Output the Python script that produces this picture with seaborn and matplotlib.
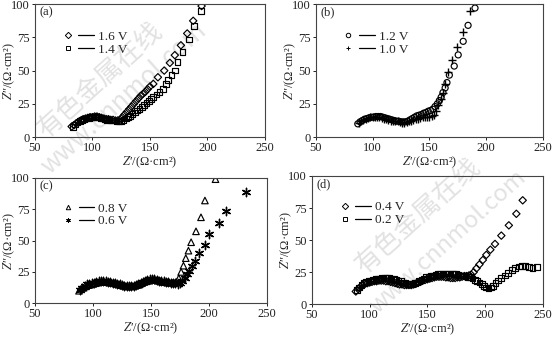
import matplotlib
matplotlib.use("Agg")
import matplotlib.pyplot as plt
import seaborn as sns
import pandas as pd
from matplotlib.lines import Line2D
from matplotlib.legend_handler import HandlerTuple

# ---------------- data (Z' , Z'') ----------------
a_16V = [(82, 8), (84, 9), (86, 10.5), (88, 11.5), (90, 12.5), (92, 13.5), (94, 14), (96, 14.5),
         (98, 15), (100, 15), (102, 15.5), (104, 15.5), (106, 15), (108, 14.5), (110, 14), (112, 13.5),
         (114, 13.5), (116, 13), (118, 13), (120, 12.5), (122, 12.5), (124, 13), (126, 15), (128, 17),
         (130, 19), (132, 21), (134, 23), (136, 25), (138, 27), (140, 29), (142, 31), (144, 32.5),
         (146, 34), (148, 36), (150, 38), (153, 40), (157, 45), (162.5, 50), (167.4, 55.8),
         (171.7, 61.6), (177, 69), (182.5, 77.9), (187.7, 87.4), (195, 98.5)]
a_14V = [(83, 7.5), (85, 9.5), (87, 11), (89, 12), (91, 13), (93, 13.5), (95, 14), (97, 14.5),
         (99, 15), (101, 15), (103, 15), (105, 15), (107, 14.5), (109, 14), (111, 13.5), (113, 13),
         (115, 13), (117, 12.5), (119, 12.5), (121, 12), (123, 12), (125, 12), (127, 13), (129, 14),
         (131, 15), (133, 16), (135, 17.5), (137, 18.5), (139, 20), (141, 21), (143, 22.5), (145, 24),
         (147, 25.5), (149, 27), (151, 28.5), (153, 30), (155.8, 32), (158.5, 34), (161.6, 36.4),
         (164, 40), (166, 42.7), (168.8, 46.5), (171.7, 50), (174, 56.5), (178.4, 64), (184, 73.4),
         (188.6, 83.4), (194.6, 95)]

b_12V = [(87, 10), (89, 11.5), (91, 12.5), (93, 13.5), (95, 14), (97, 14.5), (99, 15), (101, 15),
         (103, 15.5), (105, 15.5), (107, 15.5), (109, 15), (111, 14.5), (113, 14), (115, 13.5),
         (117, 13), (119, 12.5), (121, 12), (123, 12), (125, 11.5), (127, 11.5), (129, 11.5), (131, 12),
         (133, 13), (135, 14), (137, 15), (139, 16), (141, 16.5), (143, 17), (145, 18), (147, 18.5),
         (149, 19.5), (151, 20), (153, 21), (155, 23), (157, 25), (158.8, 27.5), (160.4, 30),
         (162, 33.5), (163.9, 37), (165.5, 41), (167.6, 46.6), (171.9, 53.4), (175.4, 61.8),
         (179.8, 72), (184.1, 84), (190.2, 97)]
b_10V = [(88, 10.5), (90, 12), (92, 13), (94, 14), (96, 14.5), (98, 15), (100, 15), (102, 15),
         (104, 15), (106, 15), (108, 14.5), (110, 14), (112, 13.5), (114, 13), (116, 12.5),
         (118, 12.5), (120, 12), (122, 12), (124, 11.5), (126, 11), (128, 11), (130, 11.5), (132, 12),
         (134, 12.5), (136, 13), (138, 13.5), (140, 14), (142, 14.5), (144, 15), (146, 15), (148, 15.5),
         (150, 15.5), (152, 16), (154, 17), (156, 20), (158, 24), (160, 28.5), (162, 33.5), (164, 40),
         (166.8, 49), (170, 58), (174, 68), (179.8, 79), (185.5, 95)]

c_08V = [(88, 10), (90, 11.5), (92, 12.5), (94, 13.5), (96, 14.5), (98, 15), (100, 15.5), (102, 16),
         (104, 16.5), (106, 17), (108, 17), (110, 17), (112, 17), (114, 16.5), (116, 16.5), (118, 16),
         (120, 15.5), (122, 15), (124, 14.5), (126, 14), (128, 13.5), (130, 13.5), (132, 13.5),
         (134, 13.5), (136, 14), (138, 14.5), (140, 15), (142, 16), (144, 17), (146, 17.5), (148, 18),
         (150, 18.5), (152, 18.5), (154, 18.5), (156, 18), (158, 17.5), (160, 17), (162, 17),
         (164, 16.5), (166, 16.5), (168, 16.5), (170, 16), (172, 17), (174, 20), (176, 25), (178, 30),
         (180, 36), (182.3, 42), (184.6, 48.7), (188.8, 57.4), (193.1, 68.6), (196.5, 82), (205.6, 99)]
c_06V = [(89, 11), (91, 12.5), (93, 14), (95, 15), (97, 15.5), (99, 16), (101, 16.5), (103, 17),
         (105, 17.5), (107, 17.5), (109, 17.5), (111, 17.5), (113, 17), (115, 17), (117, 16.5),
         (119, 16), (121, 15.5), (123, 15), (125, 14.5), (127, 14), (129, 14), (131, 13.5), (133, 14),
         (135, 14), (137, 14.5), (139, 15), (141, 16), (143, 17), (145, 18), (147, 18.5), (149, 19),
         (151, 19), (153, 19), (155, 18.5), (157, 18), (159, 17.5), (161, 17.5), (163, 17), (165, 17),
         (167, 16.5), (169, 16.5), (171, 16), (173, 15.5), (175, 16.5), (177, 18), (179, 20.5),
         (181, 23), (183, 26), (185, 29.5), (188, 34), (191.7, 39.9), (196.5, 46.8), (200.2, 55.3),
         (208.7, 63.8), (215, 74), (232, 88.6)]

d_04V = [(88, 10), (90, 12), (92, 13.5), (94, 15), (96, 16), (98, 16.5), (100, 17), (102, 17.5),
         (104, 18), (106, 18), (108, 18.5), (110, 18.5), (112, 18.5), (114, 18), (116, 18), (118, 17.5),
         (120, 17), (122, 16.5), (124, 16), (126, 15.5), (128, 15.5), (130, 15), (132, 15), (134, 15),
         (136, 15), (138, 15.5), (140, 16), (142, 17), (144, 17.5), (146, 18.5), (148, 19), (150, 19.5),
         (152, 20), (154, 20.5), (156, 21), (158, 21.5), (160, 21.5), (162, 21.5), (164, 21.5),
         (166, 21), (168, 21), (170, 20.5), (172, 20.5), (174, 20.5), (176, 21), (178, 21), (180, 21.5),
         (182, 22), (184, 22), (186, 22.5), (188, 23), (190, 25), (192.5, 28), (195, 31), (198, 34.5),
         (201, 38.5), (204.5, 42.5), (208.5, 47), (214, 53.5), (220.5, 61.5), (227, 70.5), (232.5, 81)]
d_02V = [(89, 11), (91, 13), (93, 15), (95, 16.5), (97, 17.5), (99, 18), (101, 18.5), (103, 19),
         (105, 19.5), (107, 20), (109, 20), (111, 20.5), (113, 20.5), (115, 20.5), (117, 20.5),
         (119, 20), (121, 19.5), (123, 19), (125, 18.5), (127, 18), (129, 17), (131, 16.5), (133, 16),
         (135, 16), (137, 16), (139, 16.5), (141, 17), (143, 18), (145, 19), (147, 20), (149, 21),
         (151, 21.5), (153, 22), (155, 22.5), (157, 23), (159, 23.5), (161, 23.5), (163, 24), (165, 24),
         (167, 24), (169, 24), (171, 24), (173, 23.5), (175, 23.5), (177, 23), (179, 22.5), (181, 22.5),
         (183, 22), (185, 21.5), (187, 21), (189, 20), (191, 19), (193, 18), (195, 17), (197, 16),
         (199, 14.5), (201, 13), (203, 12.5), (205, 13), (207, 14.5), (209, 16.5), (211, 18.5),
         (214, 20.5), (217, 22.5), (220, 24.5), (223, 26.5), (226, 28), (229, 29.5), (232, 30),
         (235, 30), (238, 29), (241, 28), (245, 29)]

panels = ["(a)", "(b)", "(c)", "(d)"]
labels = [("1.6 V", "1.4 V"), ("1.2 V", "1.0 V"), ("0.8 V", "0.6 V"), ("0.4 V", "0.2 V")]
series = [(a_16V, a_14V), (b_12V, b_10V), (c_08V, c_06V), (d_04V, d_02V)]
markers = [("D", "s"), ("o", "+"), ("^", (6, 2, 0)), ("D", "s")]
xticks = [50, 100, 150, 200, 250]
yticks = [0, 25, 50, 75, 100]

# ---------------- style ----------------
sns.set_style("ticks")
plt.rcParams["font.family"] = ["Liberation Serif", "DejaVu Serif"]
plt.rcParams["mathtext.fontset"] = "stix"
plt.rcParams["axes.linewidth"] = 0.8
plt.rcParams["axes.edgecolor"] = "#444444"

fig = plt.figure(figsize=(5.54, 3.37), dpi=100)
rects = [[0.063, 0.593, 0.415, 0.395],
         [0.570, 0.593, 0.410, 0.395],
         [0.063, 0.100, 0.419, 0.372],
         [0.563, 0.097, 0.417, 0.381]]

# watermark
wm_kw = dict(rotation=42, color="#e2e2e2", ha="center", va="center", zorder=-5,
             family=["Noto Sans CJK SC", "DejaVu Sans"])
fig.text(100 / 554, 1 - 80 / 337, "有色金属在线", fontsize=19, **wm_kw)
fig.text(124 / 554, 1 - 98 / 337, "www.cnnmol.com", fontsize=18, **wm_kw)
fig.text(418 / 554, 1 - 216 / 337, "有色金属在线", fontsize=19, **wm_kw)
fig.text(448 / 554, 1 - 242 / 337, "www.cnnmol.com", fontsize=17, **wm_kw)

def draw_series(ax, pts, marker):
    df = pd.DataFrame(pts, columns=["zre", "zim"])
    filled = marker in ("D", "s", "o", "^")
    size = {"D": 14, "s": 17, "o": 19, "^": 22, "+": 32}.get(marker, 36) if isinstance(marker, str) else 36
    if filled:
        sns.scatterplot(data=df, x="zre", y="zim", ax=ax, marker=marker, s=size,
                        facecolor="none", edgecolor="black", linewidth=0.85, legend=False)
    else:
        sns.scatterplot(data=df, x="zre", y="zim", ax=ax, marker=marker, s=size,
                        color="black", linewidth=1.0, legend=False)

for i in range(4):
    ax = fig.add_axes(rects[i])
    ax.set_facecolor("none")
    for pts, mk in zip(series[i], markers[i]):
        draw_series(ax, pts, mk)
    ax.set_xlim(50, 250)
    ax.set_ylim(0, 100)
    ax.set_xticks(xticks)
    ax.set_yticks(yticks)
    ax.tick_params(labelsize=9, length=2.5, width=0.7, pad=1, colors="#222222")
    ax.set_xlabel("$Z$\u2032/(Ω·cm²)", fontsize=9, labelpad=0.5)
    ax.set_ylabel("$Z$\u2033/(Ω·cm²)", fontsize=9)
    ax.yaxis.set_label_coords(-0.077, 0.5)
    ax.text(0.02, 0.935, panels[i], transform=ax.transAxes, fontsize=9, va="center", ha="left")
    handles = []
    for mk in markers[i]:
        filled = mk in ("D", "s", "o", "^")
        mh = Line2D([], [], linestyle="none", marker=mk, markersize=3.2,
                    markerfacecolor="none" if filled else "black",
                    markeredgecolor="black", markeredgewidth=0.7)
        lh = Line2D([], [], color="black", linewidth=0.9)
        handles.append((mh, lh))
    ax.legend(handles, list(labels[i]), handler_map={tuple: HandlerTuple(ndivide=None, pad=0.2)},
              loc="center left", bbox_to_anchor=(0.08, 0.705), frameon=False, fontsize=9.5,
              handlelength=2.6, handletextpad=0.3, labelspacing=0.05, borderpad=0)

fig.savefig("out.png", dpi=100)
